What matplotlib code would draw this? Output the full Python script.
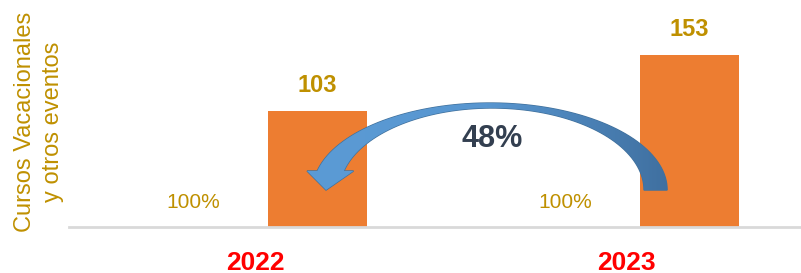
import numpy as np
import matplotlib.pyplot as plt
from matplotlib.patches import Polygon
from matplotlib.colors import LinearSegmentedColormap

plt.rcParams['font.family'] = ['Liberation Sans', 'DejaVu Sans']

# datos
years = ["2022", "2023"]
base_labels = ["100%", "100%"]
eventos = [103, 153]
variacion = "48%"
ylabel = "Cursos Vacacionales\ny otros eventos"

gold = "#BF9000"
orange = "#ED7D31"

fig = plt.figure(figsize=(8.01, 2.73), dpi=100)
ax = fig.add_axes([69 / 801, 46 / 273, 732 / 801, 227 / 273])

x = np.arange(len(years))
w = 0.266
off = 0.167

bars = ax.bar(x + off, eventos, width=w, color=orange, zorder=2)
for xi, v in zip(x, eventos):
    ax.annotate(str(v), (xi + off, v), xytext=(0, 18), textcoords="offset points",
                ha="center", va="center", color=gold, fontsize=17, fontweight="bold")
for xi, lab in zip(x, base_labels):
    ax.annotate(lab, (xi - off, 0), xytext=(0, 18), textcoords="offset points",
                ha="center", va="center", color=gold, fontsize=15)

# flecha curva 2023 -> 2022 (dos arcos de elipse + punta)
y0 = 32.8
cxo, ao, bo = 0.632, 0.476, 77.2
cxi, ai, bi = 0.637, 0.409, 72.8
yh = 49.7
to = np.linspace(0, np.pi - np.arcsin((yh - y0) / bo), 80)
ti = np.linspace(np.pi - np.arcsin((yh - y0) / bi), 0, 80)
outer = np.column_stack([cxo + ao * np.cos(to), y0 + bo * np.sin(to)])
inner = np.column_stack([cxi + ai * np.cos(ti), y0 + bi * np.sin(ti)])
head = np.array([[0.140, yh], [0.191, y0], [0.265, yh]])
verts = np.vstack([outer, head, inner])
arrow = Polygon(verts, closed=True, facecolor="#4A83BE", edgecolor="#41719C",
                lw=1, zorder=3)
ax.add_patch(arrow)
grad = np.linspace(0, 1, 256).reshape(1, -1)
cmap = LinearSegmentedColormap.from_list("azul", ["#5B9BD5", "#5896D0", "#3F6F9F"])
img = ax.imshow(grad, extent=(0.13, 1.12, 0, 201), aspect="auto", cmap=cmap, zorder=4)
img.set_clip_path(arrow)
ax.set_xlim(-0.5, 1.468)
ax.set_ylim(0, 201.4)

ax.text(0.638, 78.5, variacion, ha="center", va="center", fontsize=22,
        fontweight="bold", color="#333F50", zorder=5)

ax.set_xticks(x)
ax.set_xticklabels(years, color="#FF0000", fontsize=19, fontweight="bold")
ax.tick_params(axis="x", length=0, pad=17)
ax.set_yticks([])
for s in ["top", "right", "left"]:
    ax.spines[s].set_visible(False)
ax.spines["bottom"].set_color("#D9D9D9")
ax.spines["bottom"].set_linewidth(2)

fig.text(39 / 801, 1 - 121.5 / 273, ylabel, rotation=90, ha="center", va="center",
         multialignment="center", color=gold, fontsize=17, linespacing=1.33)

fig.savefig("out.png", dpi=100)
